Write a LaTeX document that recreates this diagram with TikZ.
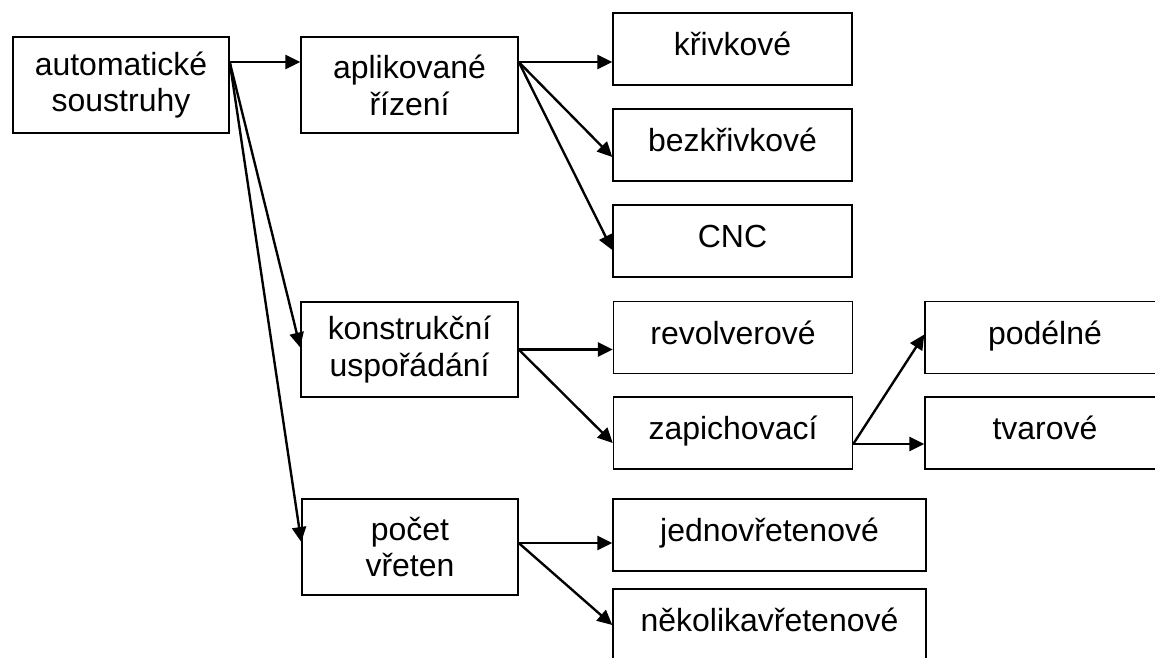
\documentclass[tikz,border=0pt]{standalone}
\usepackage{fontspec}
\setmainfont{Liberation Sans}
\usetikzlibrary{positioning}
\usetikzlibrary{calc}
\usetikzlibrary{arrows.meta}
\tikzset{
    mybox/.style = {rectangle, draw=black, line width=0.85pt, align=center, inner sep=0pt, font=\fontsize{18.2}{21}\selectfont},
    bigbox/.style = {mybox, minimum width=4.34cm, minimum height=1.92cm},
    leafbox/.style = {mybox, minimum width=4.78cm, minimum height=1.44cm, text height=12pt, text depth=4.5pt},
}

\begin{document}
\begin{tikzpicture}[
    x=0.02cm, y=-0.02cm
]
\tikzset{
    arr/.style = {-{Triangle[length=8.5pt,width=8pt]}, line width=1.35pt}
}
\useasboundingbox (0,0) rectangle (1155,657);
\clip (0,0) rectangle (1155,657);
% first level
\node[bigbox, minimum width=4.32cm] at (121,85) (auto) {automatické\\soustruhy};
% second level
\node[bigbox] at (409.5,85) (apl) {aplikované\\řízení};
\node[bigbox, minimum height=1.9cm] at (409.5,349.5) (konst) {konstrukční\\uspořádání};
\node[bigbox, minimum width=4.32cm] at (410,547) (pocet) {počet\\vřeten};
% third level
\node[leafbox] at (732.5,49) (kriv) {křivkové};
\node[leafbox] at (732.5,145) (bezk) {bezkřivkové};
\node[leafbox] at (732.5,241) (cnc) {CNC};
\node[leafbox] at (733,337.5) (revol) {revolverové};
\node[leafbox] at (733,433) (zapich) {zapichovací};
\node[leafbox, minimum width=6.26cm] at (769.5,535) (jedn) {jednovřetenové};
\node[leafbox, minimum width=6.26cm] at (769.5,625) (nekol) {několikavřetenové};
% fourth level
\node[leafbox, minimum width=4.8cm] at (1045,337.5) (podel) {podélné};
\node[leafbox, minimum width=4.8cm] at (1045,433) (tvar) {tvarové};
% arrows
\draw[arr] ($(auto.east)+(0,-23)$) -- ($(apl.west)+(0,-23)$);
\draw[arr] ($(auto.east)+(0,-23)$) -- ($(konst.west)+(0,-2)$);
\draw[arr] ($(auto.east)+(0,-23)$) -- ($(pocet.west)+(0,-5)$);
\draw[arr] ($(apl.east)+(0,-23)$) -- ($(kriv.west)+(0,13)$);
\draw[arr] ($(apl.east)+(0,-23)$) -- ($(bezk.west)+(0,12)$);
\draw[arr] ($(apl.east)+(0,-23)$) -- ($(cnc.west)+(0,9)$);
\draw[arr] (konst.east) -- ($(revol.west)+(0,12)$);
\draw[arr] (konst.east) -- ($(zapich.west)+(0,10)$);
\draw[arr] ($(zapich.east)+(0,11)$) -- ($(podel.west)+(0,-3)$);
\draw[arr] ($(zapich.east)+(0,11)$) -- ($(tvar.west)+(0,11)$);
\draw[arr] ($(pocet.east)+(0,-4)$) -- ($(jedn.west)+(0,8)$);
\draw[arr] ($(pocet.east)+(0,-4)$) -- (nekol.west);
\end{tikzpicture}
\end{document}
